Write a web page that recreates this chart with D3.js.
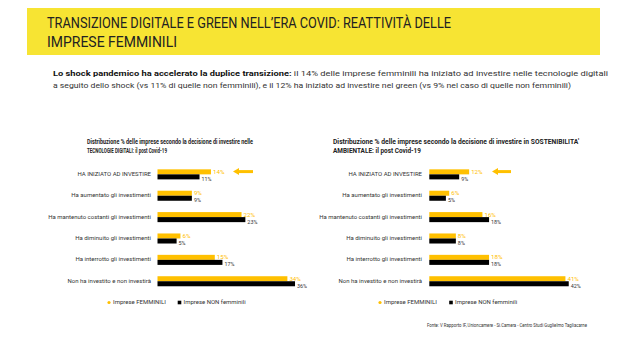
<!DOCTYPE html>
<html><head><meta charset="utf-8">
<script src="https://cdn.jsdelivr.net/npm/d3@7"></script>
<style>body{margin:0;background:#fff}svg{display:block}</style>
</head><body>
<svg id="c" width="640" height="356"></svg>
<script>
const categories = ["HA INIZIATO AD INVESTIRE","Ha aumentato gli investimenti","Ha mantenuto costanti gli investimenti","Ha diminuito gli investimenti","Ha interrotto gli investimenti","Non ha investito e non investirà"];
const digitalFemminili = [14, 9, 22, 6, 15, 34];
const digitalNonFemminili = [11, 9, 23, 5, 17, 36];
const greenFemminili = [12, 6, 16, 8, 18, 41];
const greenNonFemminili = [9, 5, 18, 8, 18, 42];
const seriesNames = ["Imprese FEMMINILI", "Imprese NON femminili"];
const titleLines = ["TRANSIZIONE DIGITALE E GREEN NELL\u2019ERA COVID: REATTIVITÀ DELLE", "IMPRESE FEMMINILI"];
const chartTitles = [
  ["Distribuzione % delle imprese secondo la decisione di investire nelle", "TECNOLOGIE DIGITALI: il post Covid-19"],
  ["Distribuzione % delle imprese secondo la decisione di investire in SOSTENIBILITA'", "AMBIENTALE: il post Covid-19"]
];
const source = "Fonte: V Rapporto IF, Unioncamere - Si.Camera - Centro Studi Guglielmo Tagliacarne";

const YEL = "#FFC000", BLK = "#000";
const svg = d3.select("#c");
const F = "Roboto, 'Noto Sans', sans-serif";

// Title bar
svg.append("rect").attr("x", 27).attr("y", 8).attr("width", 573).attr("height", 47).attr("fill", "#F7E433");
svg.append("text").attr("x", 47).attr("y", 28).attr("font-family", F).attr("font-size", 15.5).attr("fill", "#222")
  .attr("textLength", 404).attr("lengthAdjust", "spacingAndGlyphs").text(titleLines[0]);
svg.append("text").attr("x", 47).attr("y", 47).attr("font-family", F).attr("font-size", 15.5).attr("fill", "#222")
  .attr("textLength", 130).attr("lengthAdjust", "spacingAndGlyphs").text(titleLines[1]);

// Subtitle
const s1 = svg.append("text").attr("x", 53).attr("y", 76).attr("font-family", F).attr("font-size", 8).attr("fill", "#333")
  .attr("textLength", 555).attr("lengthAdjust", "spacingAndGlyphs");
s1.append("tspan").attr("font-weight", "bold").attr("fill", "#111").text("Lo shock pandemico ha accelerato la duplice transizione:");
s1.append("tspan").text(" il 14% delle imprese femminili ha iniziato ad investire nelle tecnologie digitali");
svg.append("text").attr("x", 53).attr("y", 88).attr("font-family", F).attr("font-size", 8).attr("fill", "#333")
  .attr("textLength", 518).attr("lengthAdjust", "spacingAndGlyphs")
  .text("a seguito dello shock (vs 11% di quelle non femminili), e il 12% ha iniziato ad investire nel green (vs 9% nel caso di quelle non femminili)");

function panel(cfg) {
  const g = svg.append("g");
  g.append("text").attr("x", cfg.tx).attr("y", 144).attr("font-family", F).attr("font-size", 6.8).attr("font-weight", "bold").attr("fill", "#222")
    .attr("textLength", cfg.tlen[0]).attr("lengthAdjust", "spacingAndGlyphs").text(cfg.title[0]);
  g.append("text").attr("x", cfg.tx).attr("y", 153).attr("font-family", F).attr("font-size", 6.8).attr("font-weight", "bold").attr("fill", "#222")
    .attr("textLength", cfg.tlen[1]).attr("lengthAdjust", "spacingAndGlyphs").text(cfg.title[1]);

  const x = d3.scaleLinear().domain([0, 100]).range([cfg.x0, cfg.x0 + cfg.pxPer * 100]);
  const y = d3.scaleBand().domain(categories).range([164.2, 291.4]).paddingInner(0.53).paddingOuter(0.24);
  const sub = d3.scaleBand().domain([0, 1]).range([0, y.bandwidth()]);

  categories.forEach((c, i) => {
    const vals = [cfg.fem[i], cfg.non[i]];
    vals.forEach((v, k) => {
      g.append("rect").attr("x", x(0)).attr("y", y(c) + sub(k)).attr("width", x(v) - x(0)).attr("height", sub.bandwidth())
        .attr("fill", k === 0 ? YEL : BLK);
      g.append("text").attr("x", x(v) + 2).attr("y", y(c) + sub(k) + sub.bandwidth() / 2 + (k === 0 ? 0.5 : 2.5))
        .attr("font-family", F).attr("font-size", k === 0 ? 6.2 : 5.4).attr("fill", k === 0 ? YEL : "#333")
        .attr("dominant-baseline", "middle").text(v + "%");
    });
    g.append("text").attr("x", cfg.lx).attr("y", y(c) + y.bandwidth() / 2).attr("text-anchor", "end")
      .attr("dominant-baseline", "middle").attr("font-family", F).attr("font-size", 6).attr("fill", "#333").text(c);
  });

  // arrow
  const ay = y(categories[0]) + sub.bandwidth() * 0.45;
  g.append("line").attr("x1", cfg.ax0 + 5).attr("x2", cfg.ax1).attr("y1", ay).attr("y2", ay).attr("stroke", YEL).attr("stroke-width", 3);
  g.append("path").attr("d", `M${cfg.ax0},${ay} L${cfg.ax0 + 6},${ay - 3.5} L${cfg.ax0 + 6},${ay + 3.5} Z`).attr("fill", YEL);

  // legend
  const ly = 302.5;
  g.append("circle").attr("cx", cfg.lg[0]).attr("cy", ly).attr("r", 1.6).attr("fill", YEL);
  g.append("text").attr("x", cfg.lg[0] + 4).attr("y", ly).attr("dominant-baseline", "middle").attr("font-family", F).attr("font-size", 6).attr("fill", "#333").text(seriesNames[0]);
  g.append("rect").attr("x", cfg.lg[1] - 1.8).attr("y", ly - 1.8).attr("width", 3.6).attr("height", 3.6).attr("fill", BLK);
  g.append("text").attr("x", cfg.lg[1] + 4).attr("y", ly).attr("dominant-baseline", "middle").attr("font-family", F).attr("font-size", 6).attr("fill", "#333").text(seriesNames[1]);
}

panel({ title: chartTitles[0], tx: 87, tlen: [166, 80], x0: 157.5, pxPer: 3.82, lx: 151, fem: digitalFemminili, non: digitalNonFemminili, ax0: 233, ax1: 253, lg: [109, 179.5] });
panel({ title: chartTitles[1], tx: 333, tlen: [246, 88], x0: 429.3, pxPer: 3.32, lx: 422, fem: greenFemminili, non: greenNonFemminili, ax0: 492, ax1: 511, lg: [380, 451] });

svg.append("text").attr("x", 427).attr("y", 327).attr("font-family", F).attr("font-size", 5.3).attr("fill", "#333")
  .attr("textLength", 160).attr("lengthAdjust", "spacingAndGlyphs").text(source);
</script>
</body></html>
